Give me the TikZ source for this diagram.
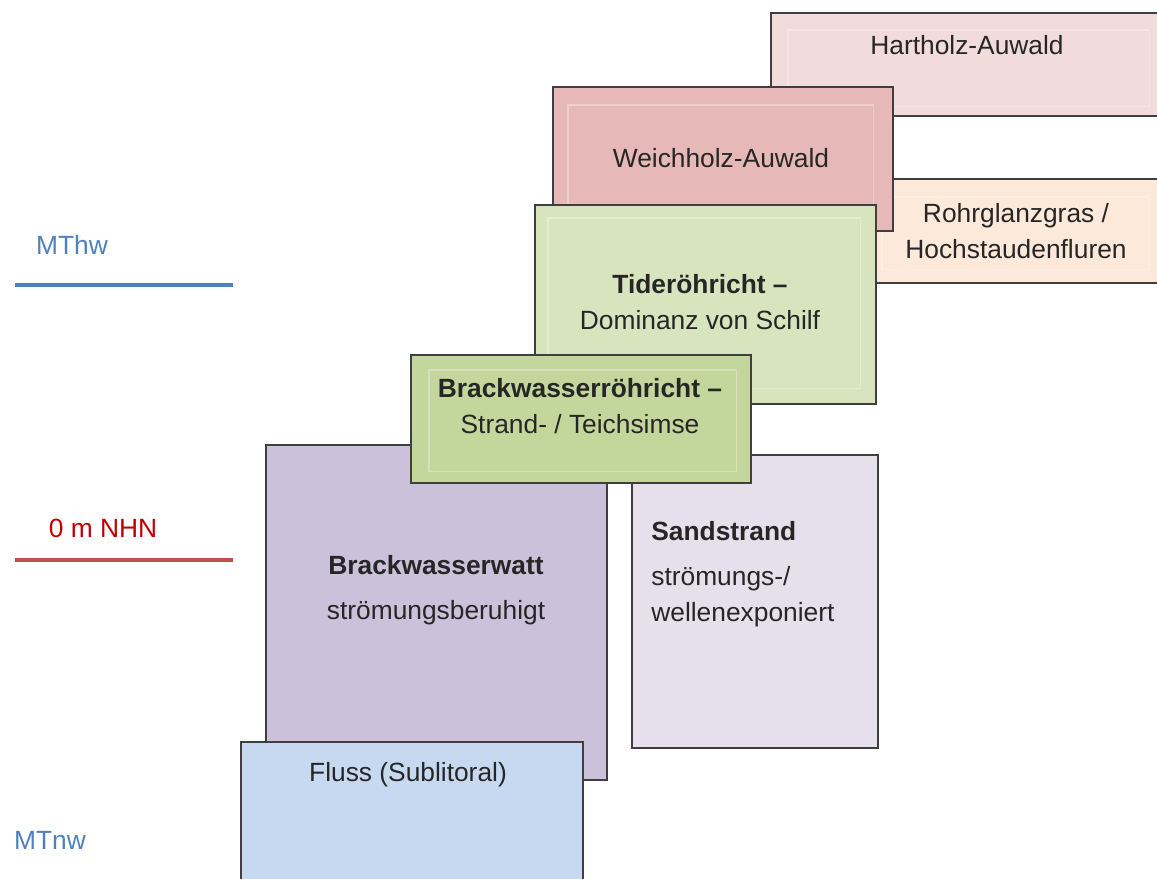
\documentclass[tikz,border=0pt]{standalone}
\usepackage{fontspec}
\setmainfont{Liberation Sans}
\usetikzlibrary{calc,positioning}
\definecolor{hartholz}{HTML}{F2DCDB}
\definecolor{weichholz}{HTML}{E6B9B8}
\definecolor{rohrglanz}{HTML}{FDE9D9}
\definecolor{tide}{HTML}{D7E4BD}
\definecolor{brackroehr}{HTML}{C3D69B}
\definecolor{watt}{HTML}{CCC1DA}
\definecolor{sand}{HTML}{E6E0EC}
\definecolor{fluss}{HTML}{C6D9F1}
\definecolor{frame}{HTML}{3F3F3F}
\definecolor{hwblue}{HTML}{4F81BD}
\definecolor{nhnline}{HTML}{C0504D}
\definecolor{nhntext}{HTML}{C00000}
\tikzset{zone/.style={
            draw=frame,
            line width=1.1pt,
            inner sep=0pt,
            anchor=north west
        },
        innerframe/.style={
            draw=white,
            opacity=0.3,
            line width=0.6pt
        },
        zonetext/.style={
            text=black!85,
            font=\fontsize{15}{20.5}\selectfont,
            align=center,
            inner sep=0pt
        },
        level/.style={
            line width=2.2pt
        },
        leveltext/.style={
            font=\fontsize{15}{18}\selectfont,
            inner sep=0pt
        }
    }

\begin{document}
\begin{tikzpicture}[x=0.02cm,y=-0.02cm]
        \clip (0,0) rectangle (1157,879);
        \fill[white] (0,0) rectangle (1157,879);
        % Zonen, von hinten nach vorn
        \node[zone,fill=hartholz,minimum width=396*0.02cm,minimum height=103*0.02cm] at (770,12) (hart) {};
        \draw[innerframe] ($(hart.north west)+(18,18)$) rectangle ($(hart.south east)+(-18,-10)$);
        \node[zone,fill=rohrglanz,minimum width=300*0.02cm,minimum height=104*0.02cm] at (860,178) (rohr) {};
        \draw[innerframe] ($(rohr.north west)+(22,19)$) rectangle ($(rohr.south east)+(-12,-14)$);
        \node[zone,fill=weichholz,minimum width=340*0.02cm,minimum height=144*0.02cm] at (552,86) (weich) {};
        \draw[innerframe] ($(weich.north west)+(16,19)$) rectangle ($(weich.south east)+(-20,-10)$);
        \node[zone,fill=tide,minimum width=341*0.02cm,minimum height=199*0.02cm] at (534,204) (tide) {};
        \draw[innerframe] ($(tide.north west)+(14,14)$) rectangle ($(tide.south east)+(-16,-16)$);
        \node[zone,fill=watt,minimum width=341*0.02cm,minimum height=335*0.02cm] at (265,444) (watt) {};
        \node[zone,fill=sand,minimum width=246*0.02cm,minimum height=293*0.02cm] at (631,454) (sand) {};
        \node[zone,fill=brackroehr,minimum width=340*0.02cm,minimum height=128*0.02cm] at (410,354) (brack) {};
        \draw[innerframe] ($(brack.north west)+(19,16)$) rectangle ($(brack.south east)+(-15,-12)$);
        \node[zone,fill=fluss,minimum width=342*0.02cm,minimum height=160*0.02cm] at (240,741) (fluss) {};
        % Beschriftungen
        \node[zonetext] at (967,45) (hartT) {Hartholz-Auwald};
        \node[zonetext] at (1016,231) (rohrT) {Rohrglanzgras /\\Hochstaudenfluren};
        \node[zonetext] at (721,158) (weichT) {Weichholz-Auwald};
        \node[zonetext] at (700,302) (tideT) {\textbf{Tideröhricht –}\\Dominanz von Schilf};
        \node[zonetext] at (580,406) (brackT) {\textbf{Brackwasserröhricht –}\\Strand- / Teichsimse};
        \node[zonetext] at (436,590) (wattT) {\textbf{Brackwasserwatt}\\[5pt]strömungsberuhigt};
        \node[zonetext,align=left,anchor=west] at (651,574) (sandT) {\textbf{Sandstrand}\\[5pt]strömungs-/\\wellenexponiert};
        \node[zonetext] at (408,775) (flussT) {Fluss (Sublitoral)};
        % Pegel
        \coordinate (hwL) at (15,285);
        \coordinate (hwR) at (233,285);
        \coordinate (nhnL) at (15,560);
        \coordinate (nhnR) at (233,560);
        \draw[level,hwblue] (hwL) -- (hwR);
        \draw[level,nhnline] (nhnL) -- (nhnR);
        \node[leveltext,text=hwblue] at (72,245) (mthw) {MThw};
        \node[leveltext,text=nhntext] at (103,528) (nhn) {0 m NHN};
        \node[leveltext,text=hwblue] at (50,840) (mtnw) {MTnw};
    \end{tikzpicture}
\end{document}
